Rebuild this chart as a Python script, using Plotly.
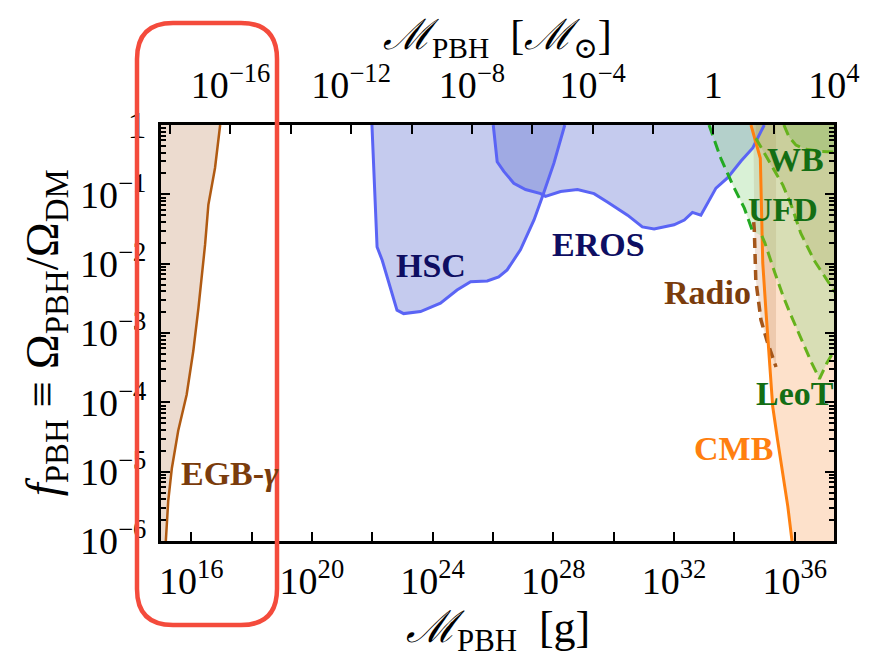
import numpy as np
import plotly.graph_objects as go

# ---------------- data (log10 values) ----------------
MSUN_LOG = np.log10(2e33)          # grams per solar mass (log10)
LOG_X_RANGE = [15.0, 37.30103]     # log10 M [g]
LOG_Y_RANGE = [-6.0, 0.0]          # log10 f_PBH
EDGE_LX, EDGE_RX = 14.0, 38.5      # fill closing beyond the visible range
EDGE_TY, EDGE_BY = 0.5, -7.0

egb_logM = [15.16, 15.24, 15.36, 15.57, 15.85, 16.07, 16.24, 16.46, 16.57, 16.79, 16.96]
egb_logf = [-6.0, -5.42, -4.95, -4.41, -3.89, -3.26, -2.64, -1.73, -1.15, -0.62, 0.0]

hsc_logM = [21.99, 22.05, 22.16, 22.33, 22.60, 22.82, 23.04, 23.60, 24.26, 24.81, 25.26,
            25.81, 26.19, 26.47, 26.91, 27.36, 27.64, 28.02, 28.38]
hsc_logf = [0.0, -0.60, -1.76, -1.95, -2.33, -2.67, -2.72, -2.69, -2.57, -2.38, -2.26,
            -2.25, -2.19, -2.09, -1.80, -1.37, -1.03, -0.55, 0.0]

eros_logM = [26.01, 26.14, 26.36, 26.69, 27.08, 27.58, 27.74, 28.24, 28.80, 29.35, 29.79,
             30.46, 30.95, 31.34, 32.00, 32.34, 32.61, 32.89, 33.39, 33.78, 34.22, 34.61,
             34.77, 34.99]
eros_logf = [0.0, -0.53, -0.67, -0.84, -0.93, -0.99, -1.03, -0.96, -0.93, -0.99, -1.11,
             -1.30, -1.47, -1.50, -1.44, -1.37, -1.26, -1.30, -0.91, -0.76, -0.52, -0.33,
             -0.19, 0.0]

cmb_logM = [34.55, 34.71, 34.86, 34.88, 34.91, 34.94, 35.05, 35.16, 35.27, 35.43, 35.60, 35.77, 35.91]
cmb_logf = [0.0, -0.26, -0.48, -0.86, -1.34, -1.99, -2.71, -3.43, -4.06, -4.54, -5.02, -5.50, -6.0]

radio_logM = [34.64, 34.66, 34.71, 34.88, 35.10, 35.38]
radio_logf = [-1.40, -1.51, -2.24, -2.81, -3.14, -3.49]
radio_top_logM = 34.62
radio_right_logM = 35.38

ufd_logM = [33.16, 33.55, 33.94, 34.33, 34.60]
ufd_logf = [0.0, -0.48, -0.86, -1.20, -1.53]

leot_logM = [34.91, 35.01, 35.34, 35.60, 35.84, 36.10, 36.33, 36.56, 36.82, 37.07, 37.30]
leot_logf = [-1.60, -1.70, -2.13, -2.45, -2.71, -2.96, -3.20, -3.43, -3.66, -3.43, -3.26]

wb2_logM = [34.71, 34.75, 35.21, 35.61, 35.88, 36.20, 36.64, 37.10, 37.33]
wb2_logf = [-0.19, -0.22, -0.58, -0.87, -1.15, -1.56, -1.95, -2.25, -2.41]

wb_logM = [35.64, 35.81, 36.04, 36.37, 36.87, 37.33]
wb_logf = [0.0, -0.17, -0.29, -0.35, -0.38, -0.39]

label_text = ["EGB-<i>γ</i>", "HSC", "EROS", "Radio", "CMB", "LeoT", "UFD", "WB"]
label_logM = [17.29, 23.96, 29.49, 33.10, 33.98, 36.01, 35.60, 36.01]
label_logf = [-5.03, -2.02, -1.72, -2.42, -4.66, -3.87, -1.22, -0.50]
label_color = ["#7a3c0c", "#0e0e62", "#0e0e62", "#7a3c0c", "#ff7f10",
               "#146e14", "#146e14", "#146e14"]

bottom_tick_exp = list(range(16, 37, 2))
bottom_label_exp = [16, 20, 24, 28, 32, 36]
top_tick_exp = list(range(-18, 5, 2))
top_label_text = {-16: "10<sup>−16</sup>", -12: "10<sup>−12</sup>", -8: "10<sup>−8</sup>",
                  -4: "10<sup>−4</sup>", 0: "1", 4: "10<sup>4</sup>"}
y_tick_exp = [-6, -5, -4, -3, -2, -1, 0]

# ---------------- helpers ----------------
def P(a):
    return 10 ** np.asarray(a, dtype=float)

FONT = "Liberation Serif, DejaVu Serif, serif"
TICK_SIZE = 38
fig = go.Figure()

def fill_poly(xs, ys, color):
    fig.add_trace(go.Scatter(x=P(xs), y=P(ys), mode="lines", fill="toself",
                             fillcolor=color, line=dict(width=0),
                             hoverinfo="skip", showlegend=False))

def line(xs, ys, color, width=3, dash=None):
    fig.add_trace(go.Scatter(x=P(xs), y=P(ys), mode="lines",
                             line=dict(color=color, width=width, dash=dash),
                             hoverinfo="skip", showlegend=False))

fill_poly(egb_logM + [EDGE_LX, EDGE_LX], egb_logf + [EDGE_TY, EDGE_BY], "rgba(205,160,130,0.38)")
fill_poly(hsc_logM, hsc_logf, "rgba(95,111,208,0.36)")
fill_poly(eros_logM, eros_logf, "rgba(95,111,208,0.36)")
fill_poly(cmb_logM + [EDGE_RX, EDGE_RX], cmb_logf + [EDGE_BY, EDGE_TY], "rgba(252,200,160,0.55)")
fill_poly([radio_top_logM] + radio_logM + [radio_right_logM, radio_right_logM],
          [EDGE_TY] + radio_logf + [radio_logf[-1], EDGE_TY], "rgba(180,110,60,0.2)")
fill_poly(ufd_logM + leot_logM + [EDGE_RX, EDGE_RX],
          ufd_logf + leot_logf + [leot_logf[-1], EDGE_TY], "rgba(150,215,140,0.36)")
fill_poly([wb2_logM[0]] + wb2_logM + [EDGE_RX, EDGE_RX],
          [EDGE_TY] + wb2_logf + [wb2_logf[-1], EDGE_TY], "rgba(150,150,60,0.2)")
fill_poly(wb_logM + [EDGE_RX, EDGE_RX], wb_logf + [wb_logf[-1], EDGE_TY], "rgba(100,170,60,0.25)")

line(egb_logM, egb_logf, "#b05a12", 2.5)
line(hsc_logM, hsc_logf, "#5a64f5", 3)
line(eros_logM, eros_logf, "#5a64f5", 3)
line(radio_logM, radio_logf, "#a4561a", 3.5, "10px,6px")
line(cmb_logM, cmb_logf, "#ff8010", 3)
line(ufd_logM, ufd_logf, "#22aa22", 3, "11px,6px")
line(leot_logM, leot_logf, "#66b21c", 3, "11px,6px")
line(wb2_logM, wb2_logf, "#66b21c", 3, "11px,6px")
line(wb_logM, wb_logf, "#66b21c", 3, "11px,6px")

fig.add_trace(go.Scatter(x=[1e-10], y=[1e-3], xaxis="x2", mode="markers",
                         marker=dict(opacity=0), hoverinfo="skip", showlegend=False))

for t, lx, ly, c in zip(label_text, label_logM, label_logf, label_color):
    fig.add_annotation(x=lx, y=ly, xref="x", yref="y", text="<b>" + t + "</b>",
                       xanchor="center", yanchor="middle",
                       showarrow=False, font=dict(family=FONT, size=34, color=c))

fig.add_annotation(x=0.5, y=-0.214, xref="paper", yref="paper", showarrow=False,
                   xanchor="center", yanchor="middle",
                   text="<i>ℳ</i><sub>PBH</sub>  [g]", font=dict(family=FONT, size=44, color="black"))
fig.add_annotation(x=0.5, y=1.21, xref="paper", yref="paper", showarrow=False,
                   xanchor="center", yanchor="middle",
                   text="<i>ℳ</i><sub>PBH</sub>  [<i>ℳ</i><sub>⊙</sub>]",
                   font=dict(family=FONT, size=42, color="black"))
fig.add_annotation(x=-0.172, y=0.5, xref="paper", yref="paper", showarrow=False, textangle=-90,
                   xanchor="center", yanchor="middle",
                   text="<i>f</i><sub>PBH</sub> ≡ Ω<sub>PBH</sub>/Ω<sub>DM</sub>",
                   font=dict(family=FONT, size=47, color="black"))

# red rounded rectangle (pixel geometry relative to the plot area)
def px(xp):
    return (xp - 161) / 673.0
def py(yp):
    return (541 - yp) / 416.0
L_, R_, T_, B_, r = 137, 277, 23, 625, 36
path = (f"M {px(L_+r)},{py(T_)} L {px(R_-r)},{py(T_)} Q {px(R_)},{py(T_)} {px(R_)},{py(T_+r)} "
        f"L {px(R_)},{py(B_-r)} Q {px(R_)},{py(B_)} {px(R_-r)},{py(B_)} "
        f"L {px(L_+r)},{py(B_)} Q {px(L_)},{py(B_)} {px(L_)},{py(B_-r)} "
        f"L {px(L_)},{py(T_+r)} Q {px(L_)},{py(T_)} {px(L_+r)},{py(T_)} Z")
fig.add_shape(type="path", path=path, xref="paper", yref="paper",
              line=dict(color="#f44b3c", width=4.5))

minor_y = [m * 10.0 ** e for e in range(-6, 0) for m in range(2, 10)]

fig.update_layout(
    width=873, height=665,
    margin=dict(l=153, r=47, t=117, b=132, autoexpand=False),
    plot_bgcolor="white", paper_bgcolor="white",
    font=dict(family=FONT, size=TICK_SIZE, color="black"),
    xaxis=dict(type="log", range=LOG_X_RANGE, showgrid=False, zeroline=False,
               showline=True, linecolor="black", linewidth=3, mirror=True,
               ticks="inside", ticklen=9, tickwidth=2, tickcolor="black",
               tickvals=[10.0 ** e for e in bottom_tick_exp],
               ticktext=[f"10<sup>{e}</sup>" if e in bottom_label_exp else "" for e in bottom_tick_exp],
               tickfont=dict(family=FONT, size=TICK_SIZE), ticklabelstandoff=4),
    xaxis2=dict(type="log", overlaying="x", side="top", anchor="y",
                range=[LOG_X_RANGE[0] - MSUN_LOG, LOG_X_RANGE[1] - MSUN_LOG],
                showgrid=False, zeroline=False, showline=False,
                ticks="inside", ticklen=9, tickwidth=2, tickcolor="black",
                tickvals=[10.0 ** e for e in top_tick_exp],
                ticktext=[top_label_text.get(e, "") for e in top_tick_exp],
                tickfont=dict(family=FONT, size=TICK_SIZE), ticklabelstandoff=18),
    yaxis=dict(type="log", range=LOG_Y_RANGE, showgrid=False, zeroline=False,
               showline=True, linecolor="black", linewidth=3, mirror="ticks",
               ticks="inside", ticklen=9, tickwidth=2, tickcolor="black",
               tickvals=[10.0 ** e for e in y_tick_exp],
               ticktext=[("1" if e == 0 else f"10<sup>−{-e}</sup>") for e in y_tick_exp],
               tickfont=dict(family=FONT, size=TICK_SIZE), ticklabelstandoff=4,
               minor=dict(tickvals=minor_y, ticks="inside", ticklen=5, tickwidth=1.5,
                          tickcolor="black", showgrid=False)),
)

fig.write_html("out.html")
